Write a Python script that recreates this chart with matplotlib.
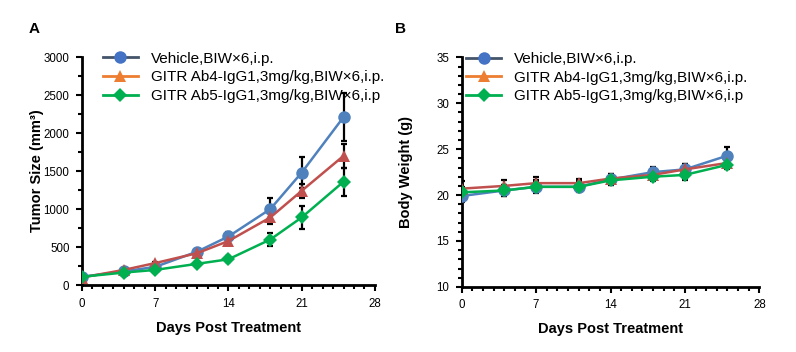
import matplotlib.pyplot as plt
from matplotlib.lines import Line2D
from matplotlib.ticker import MultipleLocator

plt.rcParams['font.family'] = ['Liberation Sans', 'DejaVu Sans']

days = [0, 4, 7, 11, 14, 18, 21, 25]
labels = ['Vehicle,BIW\u00d76,i.p.',
          'GITR Ab4-IgG1,3mg/kg,BIW\u00d76,i.p.',
          'GITR Ab5-IgG1,3mg/kg,BIW\u00d76,i.p']

tumor_vehicle = [110, 180, 240, 440, 640, 1000, 1480, 2210]
tumor_vehicle_err = [15, 20, 25, 35, 60, 145, 200, 320]
tumor_ab4 = [100, 200, 290, 420, 580, 890, 1240, 1700]
tumor_ab4_err = [10, 15, 20, 30, 45, 80, 90, 155]
tumor_ab5 = [110, 165, 200, 280, 340, 600, 890, 1360]
tumor_ab5_err = [10, 15, 20, 25, 40, 85, 150, 185]

bw_vehicle = [19.9, 20.5, 20.9, 20.9, 21.7, 22.5, 22.8, 24.3]
bw_vehicle_err = [0.6, 0.6, 0.7, 0.6, 0.6, 0.6, 0.6, 0.9]
bw_ab4 = [20.7, 21.0, 21.3, 21.3, 21.8, 22.2, 22.8, 23.5]
bw_ab4_err = [0.8, 0.6, 0.7, 0.5, 0.5, 0.5, 0.6, 0.5]
bw_ab5 = [20.3, 20.5, 20.9, 20.9, 21.6, 22.0, 22.2, 23.3]
bw_ab5_err = [0.6, 0.6, 0.5, 0.5, 0.5, 0.5, 0.6, 0.5]

line_colors = ['#4F81BD', '#C0504D', '#00B050']
legend_line_colors = ['#44546A', '#ED7D31', '#00B050']
legend_marker_colors = ['#4472C4', '#ED7D31', '#00B050']
markers = ['o', '^', 'D']
msizes = [9, 9, 7]

fig = plt.figure(figsize=(7.96, 3.52), dpi=100)
axA = fig.add_axes([0.103, 0.190, 0.368, 0.648])
axB = fig.add_axes([0.580, 0.185, 0.374, 0.652])


def draw(ax, series, errs):
    for i in range(3):
        ax.errorbar(days, series[i], yerr=errs[i], fmt='none', ecolor='black',
                    elinewidth=1.6, capsize=2.5, capthick=1.6, zorder=2)
        ax.plot(days, series[i], color=line_colors[i], marker=markers[i],
                markersize=msizes[i], linewidth=1.8, zorder=3 + i * 0.1,
                markeredgewidth=0)
    ax.set_xlim(0, 28)
    ax.xaxis.set_major_locator(MultipleLocator(7))
    ax.xaxis.set_minor_locator(MultipleLocator(1))
    ax.spines['right'].set_visible(False)
    ax.spines['top'].set_visible(False)
    ax.spines['left'].set_linewidth(2)
    ax.spines['bottom'].set_linewidth(2)
    ax.tick_params(which='major', length=4, width=1.5, labelsize=8.3, pad=5)
    ax.tick_params(which='minor', length=3, width=1.5)
    ax.set_xlabel('Days Post Treatment', fontsize=10.5, fontweight='bold', labelpad=8)
    handles = [Line2D([], [], color=legend_line_colors[i], marker=markers[i],
                      markerfacecolor=legend_marker_colors[i], markeredgewidth=0,
                      markersize=msizes[i], linewidth=2) for i in range(3)]
    return handles


hA = draw(axA, [tumor_vehicle, tumor_ab4, tumor_ab5],
          [tumor_vehicle_err, tumor_ab4_err, tumor_ab5_err])
axA.set_ylim(0, 3000)
axA.yaxis.set_major_locator(MultipleLocator(500))
axA.yaxis.set_minor_locator(MultipleLocator(250))
axA.set_ylabel('Tumor Size (mm\u00b3)', fontsize=10.5, fontweight='bold', labelpad=0)
axA.legend(hA, labels, loc='upper left', bbox_to_anchor=(0.05, 1.05), frameon=False,
           fontsize=11, handlelength=2.3, handletextpad=0.85, labelspacing=0.3,
           borderaxespad=0)

hB = draw(axB, [bw_vehicle, bw_ab4, bw_ab5],
          [bw_vehicle_err, bw_ab4_err, bw_ab5_err])
axB.set_ylim(10, 35)
axB.yaxis.set_major_locator(MultipleLocator(5))
axB.yaxis.set_minor_locator(MultipleLocator(1))
axB.set_ylabel('Body Weight (g)', fontsize=10.5, fontweight='bold', labelpad=17)
axB.legend(hB, labels, loc='upper left', bbox_to_anchor=(-0.005, 1.05), frameon=False,
           fontsize=11, handlelength=2.3, handletextpad=0.85, labelspacing=0.3,
           borderaxespad=0)

fig.text(0.036, 0.905, 'A', fontsize=11, fontweight='bold')
fig.text(0.496, 0.905, 'B', fontsize=11, fontweight='bold')

fig.savefig('out.png', dpi=100)
